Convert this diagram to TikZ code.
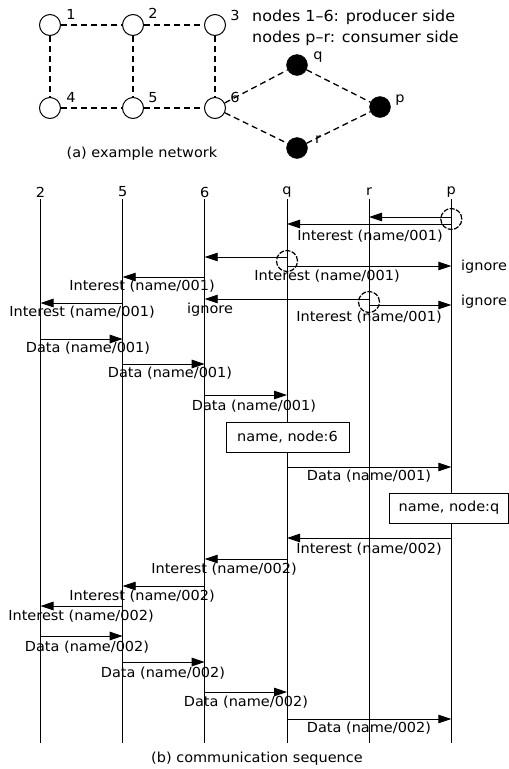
\documentclass[tikz,border=0pt]{standalone}
\usepackage{fontspec}
\setmainfont[FakeStretch=1.05]{DejaVu Sans}
\usetikzlibrary{arrows.meta}
\begin{document}
\begin{tikzpicture}[x=1pt,y=-1pt,font=\fontsize{13.8}{16}\selectfont,
  pnode/.style={circle,draw,line width=1pt,minimum size=21pt,inner sep=0pt,fill=white},
  cnode/.style={circle,fill=black,draw=black,minimum size=21pt,inner sep=0pt},
  link/.style={dash pattern=on 6pt off 4pt,line width=1.3pt},
  life/.style={line width=0.8pt},
  msg/.style={line width=0.9pt,-{Triangle[length=13pt,width=8.5pt]}},
  dcirc/.style={circle,draw,dash pattern=on 5pt off 1.5pt,line width=1.2pt,minimum size=21pt,inner sep=0pt},
  infobox/.style={draw,line width=0.8pt,fill=white,minimum width=123pt,minimum height=30pt,inner sep=0pt},
  lbl/.style={inner sep=0pt}]
\useasboundingbox (0,0) rectangle (509,769);
% ---------- (a) network ----------
\node[pnode] (n1) at (50,25) {};
\node[pnode] (n2) at (133,25) {};
\node[pnode] (n3) at (215,25) {};
\node[pnode] (n4) at (50,108) {};
\node[pnode] (n5) at (133,108) {};
\node[pnode] (n6) at (215,108) {};
\node[cnode] (nq) at (297,65) {};
\node[cnode] (np) at (380,107) {};
\node[cnode] (nr) at (297,148) {};
\draw[link] (n1) -- (n2);
\draw[link] (n2) -- (n3);
\draw[link] (n1) -- (n4);
\draw[link] (n2) -- (n5);
\draw[link] (n3) -- (n6);
\draw[link] (n4) -- (n5);
\draw[link] (n5) -- (n6);
\draw[link] (n6) -- (nq);
\draw[link] (n6) -- (nr);
\draw[link] (nq) -- (np);
\draw[link] (nr) -- (np);
\node[lbl] (t1) at (71,14) {1};
\node[lbl] (t2) at (153,13) {2};
\node[lbl] (t3) at (235,15) {3};
\node[lbl] (t4) at (71,97) {4};
\node[lbl] (t5) at (153,98) {5};
\node[lbl] (t6) at (235,97) {6};
\node[lbl] (tq) at (318,57) {q};
\node[lbl] (tp) at (400,100) {p};
\node[lbl] (tr) at (318,140) {r};
\node[lbl,anchor=west,font=\fontsize{15.2}{17}\selectfont] (leg1) at (252,17) {nodes 1–6: producer side};
\node[lbl,anchor=west,font=\fontsize{15.2}{17}\selectfont] (leg2) at (252,38) {nodes p–r: consumer side};
\node[lbl] (capa) at (142,154) {(a) example network};
% ---------- (b) sequence ----------
\node[lbl] (L2) at (40.5,192) {2};
\node[lbl] (L5) at (122.7,192) {5};
\node[lbl] (L6) at (204.7,192) {6};
\node[lbl] (Lq) at (287,192) {q};
\node[lbl] (Lr) at (369,192) {r};
\node[lbl] (Lp) at (451.3,192) {p};
\foreach \n in {L2,L5,L6,Lq,Lr,Lp}{
  \draw[life] (\n |- 0,199) -- (\n |- 0,743);
}
% interest 001
\draw[msg] (Lp |- 0,217) -- (Lr |- 0,217);
\draw[msg] (Lp |- 0,224) -- (Lq |- 0,224);
\node[dcirc] (c1) at (Lp |- 0,219) {};
\node[lbl] (m1) at (370,236) {Interest (name/001)};
\node[dcirc] (c2) at (Lq |- 0,261) {};
\draw[msg] (Lq |- 0,257) -- (L6 |- 0,257);
\draw[msg] (Lq |- 0,266) -- (Lp |- 0,266);
\node[lbl,anchor=west] (ig1) at (461,267) {ignore};
\node[lbl] (m2) at (327,276) {Interest (name/001)};
\draw[msg] (L6 |- 0,277) -- (L5 |- 0,277);
\node[lbl] (m3) at (142,286) {Interest (name/001)};
\node[dcirc] (c3) at (Lr |- 0,302) {};
\draw[msg] (Lr |- 0,299) -- (L6 |- 0,299);
\node[lbl] (ig2) at (210,310) {ignore};
\draw[msg] (Lr |- 0,305) -- (Lp |- 0,305);
\node[lbl,anchor=west] (ig3) at (461,302) {ignore};
\node[lbl] (m4) at (369,317) {Interest (name/001)};
\draw[msg] (L5 |- 0,303) -- (L2 |- 0,303);
\node[lbl] (m5) at (82,312) {Interest (name/001)};
% data 001
\draw[msg] (L2 |- 0,339) -- (L5 |- 0,339);
\node[lbl] (d1) at (88,348) {Data (name/001)};
\draw[msg] (L5 |- 0,364) -- (L6 |- 0,364);
\node[lbl] (d2) at (170,373) {Data (name/001)};
\draw[msg] (L6 |- 0,395) -- (Lq |- 0,395);
\node[lbl] (d3) at (254,406) {Data (name/001)};
\node[infobox] (b1) at (287.5,437) {name, node:6};
\draw[msg] (Lq |- 0,467) -- (Lp |- 0,467);
\node[lbl] (d4) at (369,476) {Data (name/001)};
\node[infobox,minimum width=119.5pt] (b2) at (449,508) {name, node:q};
% interest 002
\draw[msg] (Lp |- 0,538) -- (Lq |- 0,538);
\node[lbl] (m6) at (369,549) {Interest (name/002)};
\draw[msg] (Lq |- 0,559) -- (L6 |- 0,559);
\node[lbl] (m7) at (224,569) {Interest (name/002)};
\draw[msg] (L6 |- 0,586) -- (L5 |- 0,586);
\node[lbl] (m8) at (142,596) {Interest (name/002)};
\draw[msg] (L5 |- 0,606) -- (L2 |- 0,606);
\node[lbl] (m9) at (81,616) {Interest (name/002)};
% data 002
\draw[msg] (L2 |- 0,636) -- (L5 |- 0,636);
\node[lbl] (d5) at (87,647) {Data (name/002)};
\draw[msg] (L5 |- 0,662) -- (L6 |- 0,662);
\node[lbl] (d6) at (163,673) {Data (name/002)};
\draw[msg] (L6 |- 0,692) -- (Lq |- 0,692);
\node[lbl] (d7) at (246,702) {Data (name/002)};
\draw[msg] (Lq |- 0,719) -- (Lp |- 0,719);
\node[lbl] (d8) at (369,728) {Data (name/002)};
\node[lbl] (capb) at (257,759) {(b) communication sequence};
\end{tikzpicture}
\end{document}
